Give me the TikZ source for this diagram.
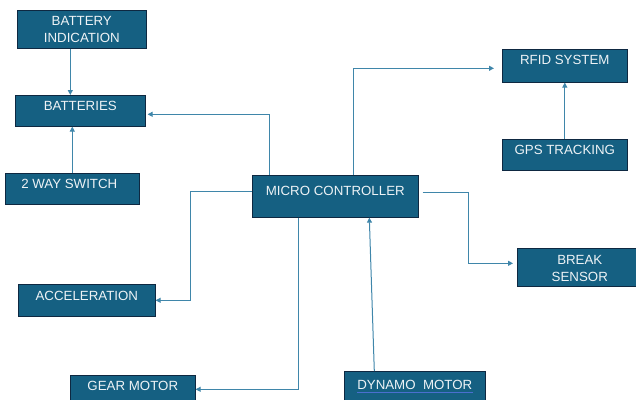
\documentclass[tikz,border=0pt]{standalone}
\usepackage{fontspec}
\setmainfont{Liberation Sans}
\usetikzlibrary{arrows.meta}
\definecolor{boxfill}{HTML}{156082}
\definecolor{boxline}{HTML}{0E2841}
\definecolor{conncol}{HTML}{3F86AA}
\definecolor{txtcol}{HTML}{EEF3F6}
\definecolor{ulcol}{HTML}{4A6FD0}
\tikzset{
  box/.style={draw=boxline, line width=0.6pt, fill=boxfill, rectangle, anchor=north west, inner sep=0pt},
  lbl/.style={text=txtcol, font=\fontsize{13.3}{17}\selectfont, align=center, inner sep=0pt, anchor=north},
  conn/.style={draw=conncol, line width=1pt, -{Triangle[length=5pt,width=5pt]}},
}
\begin{document}
\begin{tikzpicture}[x=1pt,y=-1pt]
\useasboundingbox (0,0) rectangle (636,399);
\clip (0,0) rectangle (636,399);
\node[box, minimum width=129pt, minimum height=38pt, label={[lbl, yshift=-6pt]north:BATTERY\\INDICATION}] (bi) at (17,10) {};
\node[box, minimum width=130pt, minimum height=31pt, label={[lbl, yshift=-6pt]north:BATTERIES}] (bat) at (15,95) {};
\node[box, minimum width=134pt, minimum height=31pt, label={[lbl, yshift=-6pt, xshift=-3pt]north:2 WAY SWITCH}] (sw) at (5,173) {};
\node[box, minimum width=166pt, minimum height=42pt, label={[lbl, yshift=-11pt]north:MICRO CONTROLLER}] (mc) at (252,175) {};
\node[box, minimum width=125pt, minimum height=33pt, label={[lbl, yshift=-6pt]north:RFID SYSTEM}] (rfid) at (502,49) {};
\node[box, minimum width=125pt, minimum height=31pt, label={[lbl, yshift=-6pt]north:GPS TRACKING}] (gps) at (502,139) {};
\node[box, minimum width=119pt, minimum height=38pt, label={[lbl, yshift=-7pt, xshift=3pt]north:BREAK\\SENSOR}] (brk) at (517,248) {};
\node[box, minimum width=137pt, minimum height=32pt, label={[lbl, yshift=-7pt]north:ACCELERATION}] (acc) at (18,284) {};
\node[box, minimum width=125pt, minimum height=28pt, label={[lbl, yshift=-6pt]north:GEAR MOTOR}] (gear) at (70,375) {};
\node[box, minimum width=141pt, minimum height=32pt, label={[lbl, yshift=-9pt, name=dt]north:DYNAMO\ \ MOTOR}] (dyn) at (344,371) {};
\draw[ulcol, line width=0.9pt] ([yshift=-3pt]dt.base west) -- ([yshift=-3pt]dt.base east);
% connectors
\draw[conn] ([xshift=-11.5pt]bi.south) -- ([xshift=-10pt]bat.north);
\draw[conn] (sw.north) -- (sw.north |- bat.south);
\draw[conn] ([xshift=-66pt]mc.north) |- ([yshift=-3.5pt, xshift=2pt]bat.east);
\draw[conn] ([xshift=18pt]mc.north) |- ([yshift=-2.5pt, xshift=-8pt]rfid.west);
\draw[conn] (gps.north) -- (rfid.south);
\draw[conn] ([yshift=5pt]mc.west) -- ++(-62,0) |- (acc.east);
\draw[conn] ([xshift=-37pt]mc.south) |- (gear.east);
\draw[conn] ([xshift=-40.5pt]dyn.north) -- ([xshift=34pt]mc.south);
\draw[conn] ([xshift=4pt, yshift=4pt]mc.east) -- ++(46,0) |- ([yshift=4pt, xshift=-4pt]brk.west);
\end{tikzpicture}
\end{document}
